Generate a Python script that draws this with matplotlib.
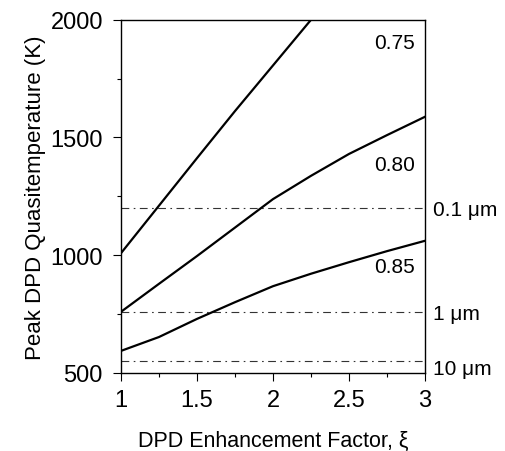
import matplotlib
matplotlib.use('Agg')
from matplotlib import pyplot as plt

plt.rcParams['font.family'] = ['Liberation Sans', 'DejaVu Sans']

# 곡선 데이터 (읽은 값)
xi = [1, 1.25, 1.5, 1.75, 2, 2.25, 2.5, 2.75, 3]
xi_075 = [1, 1.25, 1.5, 1.75, 2, 2.25]
t_075 = [1008, 1210, 1412, 1612, 1806, 2000]
t_080 = [759, 878, 996, 1117, 1238, 1337, 1430, 1510, 1588]
t_085 = [593, 652, 729, 800, 868, 921, 970, 1017, 1061]

curve_labels = ['0.75', '0.80', '0.85']
curve_label_y = [1905, 1386, 953]

size_labels = ['0.1 \u03bcm', '1 \u03bcm', '10 \u03bcm']
size_temps = [1200, 757, 550]
size_label_y = [1195, 752, 518]

fig = plt.figure(figsize=(5.06, 4.52), dpi=100)
ax = fig.add_axes([0.239, 0.173, 0.601, 0.781])

for t in size_temps:
    ax.axhline(t, color='#333333', lw=0.8, ls=(0, (7, 4, 1.5, 4)))

ax.plot(xi_075, t_075, c='black', lw=1.6)
ax.plot(xi, t_080, c='black', lw=1.6)
ax.plot(xi, t_085, c='black', lw=1.6)

for lab, y in zip(curve_labels, curve_label_y):
    ax.text(2.935, y, lab, ha='right', va='center', fontsize=15)

for lab, y in zip(size_labels, size_label_y):
    ax.text(3.05, y, lab, ha='left', va='center', fontsize=15, clip_on=False)

ax.set_xlim(1, 3)
ax.set_ylim(500, 2000)
ax.set_xticks([1, 1.5, 2, 2.5, 3])
ax.set_xticklabels(['1', '1.5', '2', '2.5', '3'])
ax.set_xticks([1.25, 1.75, 2.25, 2.75], minor=True)
ax.set_yticks([500, 1000, 1500, 2000])
ax.set_yticks([750, 1250, 1750], minor=True)
ax.tick_params(axis='both', which='major', direction='out', length=6, width=0.8, labelsize=17)
ax.tick_params(axis='x', which='major', pad=6)
ax.tick_params(axis='y', which='major', pad=7)
ax.tick_params(axis='both', which='minor', direction='out', length=3, width=0.8)

for s in ax.spines.values():
    s.set_linewidth(1.0)

ax.set_xlabel('DPD Enhancement Factor, \u03be', fontsize=15.5, labelpad=13)
ax.set_ylabel('Peak DPD Quasitemperature (K)', fontsize=16, labelpad=3)

fig.savefig('out.png', dpi=100)
